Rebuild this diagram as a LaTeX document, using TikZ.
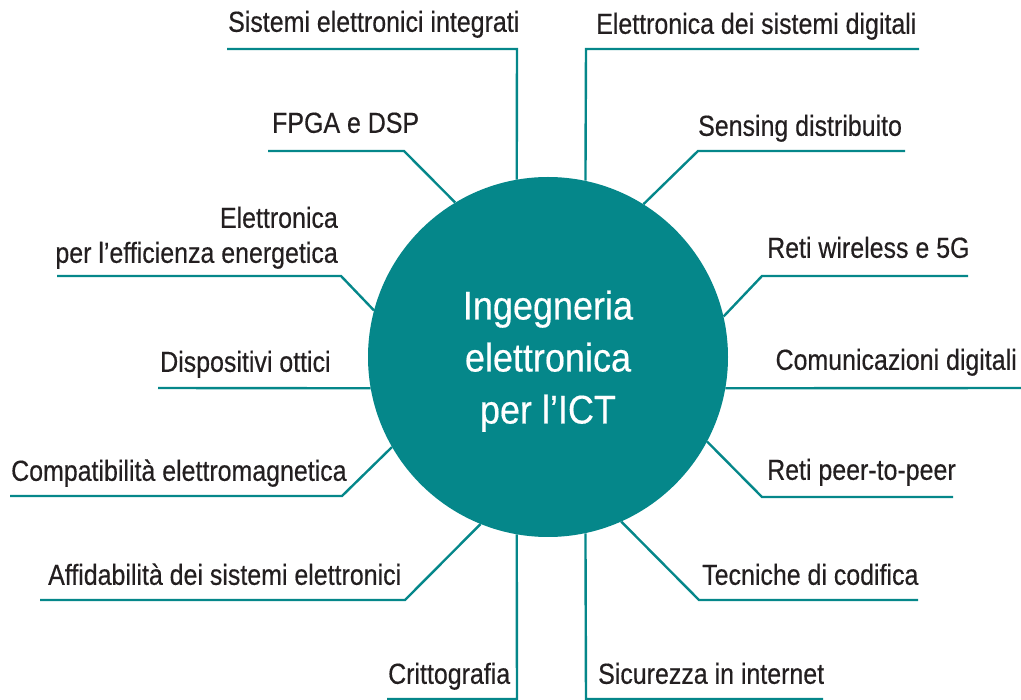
\documentclass[tikz,border=0pt]{standalone}
\usepackage{fontspec}
\setmainfont{Liberation Sans}[FakeStretch=0.86,FakeBold=0.4]
\newfontfamily\hubfont{Liberation Sans}[FakeStretch=0.9,FakeBold=0.4]
\usetikzlibrary{positioning}
\definecolor{ictteal}{HTML}{05878A}
\definecolor{labelgray}{HTML}{231F20}

\begin{document}
\begin{tikzpicture}[x=1pt,y=-1pt,
 hub/.style={circle,fill=ictteal,minimum size=360pt,inner sep=0pt,text=white,align=center,text depth=0pt,font=\hubfont\fontsize{40}{52}\selectfont},
 topic/.style={inner sep=0pt,text depth=0pt,text=labelgray,font=\fontsize{29}{35}\selectfont},
 link/.style={draw=ictteal,line width=2.4pt}]
 \useasboundingbox (0,0) rectangle (1021,700);

 %Coordinates
 \coordinate (sisK) at (517,49);  \coordinate (sisE) at (227,49);
 \coordinate (digK) at (586,49);  \coordinate (digE) at (919,49);
 \coordinate (fpgaK) at (404,151); \coordinate (fpgaE) at (268,151);
 \coordinate (senK) at (698,151); \coordinate (senE) at (905,151);
 \coordinate (effK) at (341,276); \coordinate (effE) at (57,276);
 \coordinate (dispE) at (158,388);
 \coordinate (compK) at (342,496); \coordinate (compE) at (10,496);
 \coordinate (affK) at (405,600); \coordinate (affE) at (40,600);
 \coordinate (critK) at (517,699); \coordinate (critE) at (387,699);
 \coordinate (sicK) at (586,699); \coordinate (sicE) at (823,699);
 \coordinate (tecK) at (699,600); \coordinate (tecE) at (918,600);
 \coordinate (peerK) at (762,497); \coordinate (peerE) at (953,497);
 \coordinate (comE) at (1021,388);
 \coordinate (wlsK) at (762,276); \coordinate (wlsE) at (968,276);

 %Names
 \node (hub) [hub] at (548,357) {Ingegneria\\elettronica\\per l’ICT};

 \node (sis) [topic, above right=17pt and 1pt of sisE] {Sistemi elettronici integrati};
 \node (dig) [topic, above right=15pt and 10pt of digK] {Elettronica dei sistemi digitali};
 \node (fpga) [topic, above right=18pt and 4pt of fpgaE] {FPGA e DSP};
 \node (sen) [topic, above right=15pt and 0pt of senK] {Sensing distribuito};
 \node (eff) [topic, align=right, above left=13pt and 3pt of effK] {Elettronica\\per l’efficienza energetica};
 \node (disp) [topic, above right=16pt and 2pt of dispE] {Dispositivi ottici};
 \node (comp) [topic, above right=15pt and 1pt of compE] {Compatibilità elettromagnetica};
 \node (aff) [topic, above right=15pt and 8pt of affE] {Affidabilità dei sistemi elettronici};
 \node (crit) [topic, above right=15pt and 1pt of critE] {Crittografia};
 \node (sic) [topic, above right=15pt and 12pt of sicK] {Sicurezza in internet};
 \node (tec) [topic, above right=15pt and 3pt of tecK] {Tecniche di codifica};
 \node (peer) [topic, above right=17pt and 5pt of peerK] {Reti peer-to-peer};
 \node (com) [topic, above left=18pt and 4pt of comE] {Comunicazioni digitali};
 \node (wls) [topic, above right=18pt and 5pt of wlsK] {Reti wireless e 5G};

 %Links
 \draw[link] (hub.100) -- (sisK) -- (sisE);
 \draw[link] (hub.78) -- (digK) -- (digE);
 \draw[link] (hub.121) -- (fpgaK) -- (fpgaE);
 \draw[link] (hub.58) -- (senK) -- (senE);
 \draw[link] (hub.165) -- (effK) -- (effE);
 \draw[link] (hub.190) -- (dispE);
 \draw[link] (hub.210) -- (compK) -- (compE);
 \draw[link] (hub.248) -- (affK) -- (affE);
 \draw[link] (hub.260) -- (critK) -- (critE);
 \draw[link] (hub.282) -- (sicK) -- (sicE);
 \draw[link] (hub.294) -- (tecK) -- (tecE);
 \draw[link] (hub.332) -- (peerK) -- (peerE);
 \draw[link] (hub.350) -- (comE);
 \draw[link] (hub.13) -- (wlsK) -- (wlsE);
\end{tikzpicture}
\end{document}
